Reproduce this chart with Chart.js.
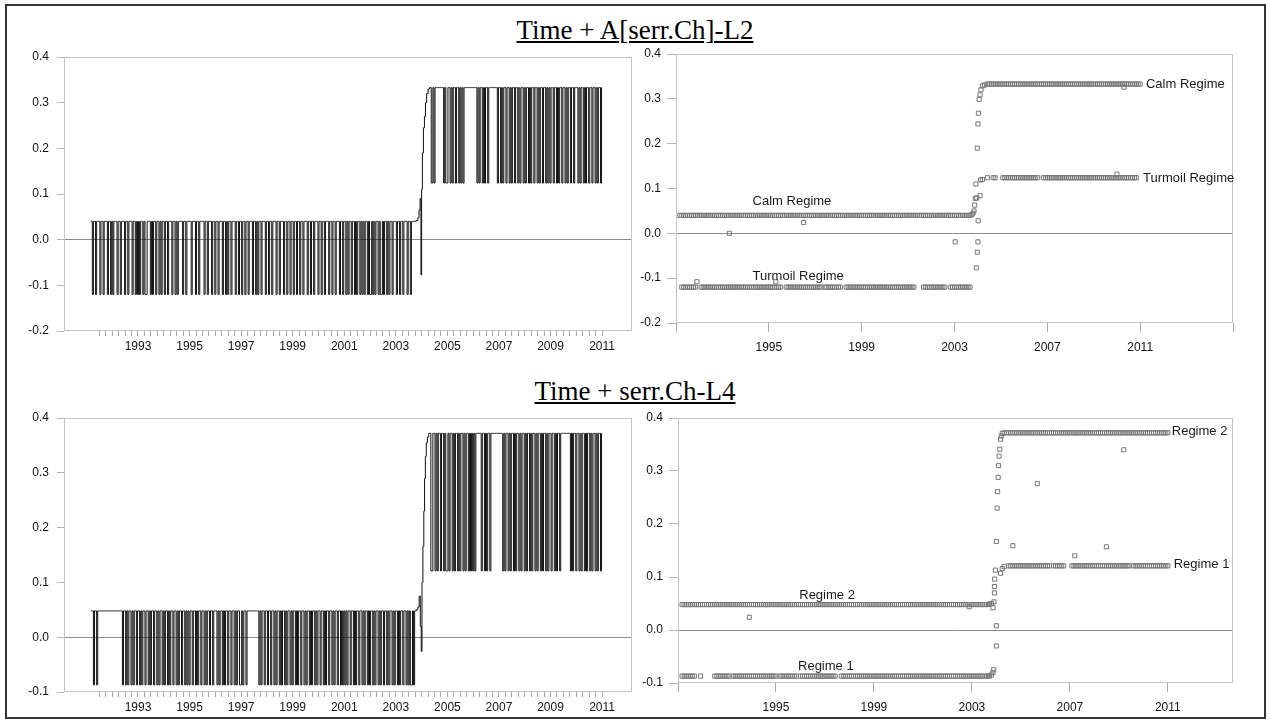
<!DOCTYPE html>
<html>
<head>
<meta charset="utf-8">
<script src="https://cdn.jsdelivr.net/npm/chart.js@4.4.1/dist/chart.umd.min.js"></script>
<style>
  body { margin: 0; width: 1270px; height: 721px; background: #fff; position: relative; overflow: hidden; }
  #frame { position: absolute; left: 5px; top: 4px; width: 1261px; height: 715px; box-sizing: border-box; border: 2px solid #333; }
  .title { position: absolute; left: 0; width: 1270px; text-align: center; font-family: "Liberation Serif", "Times New Roman", serif; font-size: 27px; line-height: 27px; color: #000; }
  .title span { text-decoration: underline; text-decoration-thickness: 2px; text-underline-offset: 2px; }
  .panel { position: absolute; }
</style>
</head>
<body>
<div id="frame"></div>
<div class="title" style="top:17px"><span>Time + A[serr.Ch]-L2</span></div>
<div class="title" style="top:378px"><span>Time + serr.Ch-L4</span></div>
<div class="panel" style="left:8px;top:41px;width:626px;height:316px"><canvas id="lineA"></canvas></div>
<div class="panel" style="left:636px;top:38px;width:614px;height:313px"><canvas id="dotsA"></canvas></div>
<div class="panel" style="left:8px;top:402px;width:626px;height:316px"><canvas id="lineB"></canvas></div>
<div class="panel" style="left:638px;top:402px;width:612px;height:311px"><canvas id="dotsB"></canvas></div>
<script>
// regime levels: [before 2004, after 2004]
const calmA = [0.040, 0.333];
const turmoilA = [-0.120, 0.124];
const calmB = [0.048, 0.372];
const turmoilB = [-0.087, 0.121];

// half-month regime path of the left panels, '1' = calm / regime 2, '0' = turmoil / regime 1
// pre = Mar 1991 .. Sep 2003, post = Jun 2004 .. Jan 2011, one string per year
const pathA_pre = ['11011011101101110110', '101110110111011011101101', '010110100111010110110101',
  '101101110110101111011011', '110111011011110110111011', '011011101101011011101101',
  '101101101110110101101110', '110110111011011101101101', '101101101101110110110111',
  '011011011101101101110110', '110101101101011010101101', '001010110100101101011011',
  '101101101110110111'];
const pathA_post = ['01011111111010', '011010110110101011111111', '111101011010110111111110',
  '110101101101011011010110', '101101011011010110110101', '011011010110110101101101',
  '110101101011011011010110', '1'];
const pathB_pre = ['11101101111111111111', '111111111101101011010110', '110101101101011011010110',
  '101101011011010110110101', '011011010110110101101101', '110101101011011011010110',
  '010110111111111110101101', '101101101011010110101101', '011010110110101101011010',
  '110110101101101011011010', '101011011010110110101101', '011010110101101101011010',
  '110101101101010010'];
const pathB_post = ['01101011011010', '010110101101011010110101', '010111110110101101111111',
  '111101011010110101101011', '010110101101011010110101', '101101011011111111101011',
  '011010110101101011010110', '1'];

// monthly: months where the turmoil / regime 1 square is drawn in the right panels ('0' = gap)
const turmOnA_pre = ['0111111110', '011111111111', '111111111111', '111111111111', '111111100111',
  '111111111111', '111101111111', '110011111111', '111111111111', '111111111111',
  '111100001111', '111111110011', '111111111'];
const turmOnA_post = ['1001100', '011111111111', '111111110011', '111111111111', '111111111111',
  '111111111111', '111111111110', '0'];
const turmOnB_pre = ['1111111001', '000000111111', '110111111111', '111111111111', '101111111110',
  '111111111111', '111111001111', '111111111111', '111111111111', '111111111111',
  '111111111111', '111111111111', '111111111'];
const turmOnB_post = ['0111111', '111111111111', '111011111100', '011111111111', '111111111111',
  '111111011111', '111111111111', '1'];

// the 2003/04 transition, [year, value]
const stepLineA = [[2003.75, 0.040], [2003.83, 0.042], [2003.88, 0.048], [2003.92, 0.065], [2003.96, 0.090],
  [2003.99, -0.077], [2004.01, 0.110], [2004.05, 0.190], [2004.09, 0.245], [2004.13, 0.270],
  [2004.17, 0.300], [2004.22, 0.320], [2004.28, 0.330], [2004.33, 0.333]];
const stepLineB = [[2003.75, 0.048], [2003.83, 0.050], [2003.88, 0.055], [2003.93, 0.075], [2003.97, 0.020],
  [2004.00, -0.026], [2004.03, 0.100], [2004.07, 0.165], [2004.10, 0.230], [2004.13, 0.290],
  [2004.16, 0.330], [2004.20, 0.355], [2004.25, 0.365], [2004.30, 0.372]];
const calmStepA = [[2003.75, 0.042], [2003.80, 0.045], [2003.84, 0.050], [2003.87, 0.063], [2003.90, 0.078],
  [2003.98, 0.190], [2004.01, 0.244], [2004.03, 0.268], [2004.06, 0.299], [2004.10, 0.309],
  [2004.14, 0.320], [2004.21, 0.329], [2004.30, 0.331]];
const turmStepA = [[2003.94, -0.077], [2003.98, -0.042], [2004.01, -0.019], [2004.02, 0.028], [2003.96, 0.079],
  [2004.10, 0.084], [2003.92, 0.110], [2004.12, 0.119], [2004.20, 0.120]];
const calmStepB = [[2003.72, 0.049], [2003.80, 0.050], [2003.86, 0.042], [2003.90, 0.053], [2004.00, 0.008],
  [2004.00, -0.030], [2004.00, 0.167], [2004.03, 0.230], [2004.05, 0.261], [2004.07, 0.288],
  [2004.09, 0.310], [2004.11, 0.328], [2004.14, 0.341], [2004.17, 0.360], [2004.20, 0.366],
  [2004.24, 0.371], [2004.32, 0.372]];
const turmStepB = [[2003.72, -0.087], [2003.80, -0.085], [2003.86, -0.080], [2003.89, -0.075], [2003.92, 0.070],
  [2003.92, 0.082], [2003.93, 0.096], [2003.96, 0.113], [2004.17, 0.107], [2004.24, 0.116], [2004.32, 0.120]];

// stray squares off the two regime rows
const extraA = [[1993.3, 0.000], [1996.5, 0.024], [2003.03, -0.019], [1991.9, -0.108], [1995.3, -0.108],
  [2010.0, 0.132], [2010.3, 0.326]];
const extraB = [[1993.91, 0.024], [2002.89, 0.044], [2004.67, 0.159], [2005.67, 0.276], [2007.20, 0.140],
  [2008.49, 0.157], [2009.20, 0.340]];

const notesA = [['Calm Regime', 2011.25, 0.333], ['Turmoil Regime', 2011.12, 0.123],
  ['Calm Regime', 1994.3, 0.071], ['Turmoil Regime', 1994.3, -0.097]];
const notesB = [['Regime 2', 2011.16, 0.374], ['Regime 1', 2011.24, 0.123],
  ['Regime 2', 1995.95, 0.066], ['Regime 1', 1995.9, -0.068]];

const PRE_START = 1991 + 2 / 12;
const POST_START = 2004 + 5 / 12;
const tickFont = { family: '"Liberation Sans", Arial, sans-serif', size: 12 };

function expand(rows, start, step) {
  var s = rows.join('');
  var out = [];
  for (var i = 0; i < s.length; i++) {
    out.push({ x: start + i * step, c: s[i] });
  }
  return out;
}

function pathData(pre, post, calm, turm, step) {
  var pts = [];
  expand(pre, PRE_START, 1 / 24).forEach(function (m) { pts.push({ x: m.x, y: m.c == '1' ? calm[0] : turm[0] }); });
  step.forEach(function (p) { pts.push({ x: p[0], y: p[1] }); });
  expand(post, POST_START, 1 / 24).forEach(function (m) { pts.push({ x: m.x, y: m.c == '1' ? calm[1] : turm[1] }); });
  return pts;
}

function dotsData(pre, post, calm, turm, calmStep, turmStep, extra) {
  var pts = [];
  [[pre, PRE_START, 0], [post, POST_START, 1]].forEach(function (part) {
    expand(part[0], part[1], 1 / 12).forEach(function (m) {
      pts.push({ x: m.x, y: calm[part[2]] });
      if (m.c == '1') pts.push({ x: m.x, y: turm[part[2]] });
    });
  });
  calmStep.concat(turmStep, extra).forEach(function (p) { pts.push({ x: p[0], y: p[1] }); });
  return pts;
}

var framePlugin = {
  id: 'frame',
  beforeDatasetsDraw: function (chart) {
    var a = chart.chartArea, ctx = chart.ctx;
    ctx.save();
    ctx.strokeStyle = '#c4c4c4';
    ctx.lineWidth = 1;
    ctx.strokeRect(a.left + 0.5, a.top + 0.5, a.right - a.left - 1, a.bottom - a.top - 1);
    ctx.restore();
  }
};

var notesPlugin = {
  id: 'notes',
  afterDatasetsDraw: function (chart, args, opts) {
    if (!opts.items) return;
    var ctx = chart.ctx;
    ctx.save();
    ctx.font = '13px "Liberation Sans", Arial, sans-serif';
    ctx.fillStyle = '#1a1a1a';
    ctx.textAlign = 'left';
    ctx.textBaseline = 'middle';
    opts.items.forEach(function (n) {
      ctx.fillText(n[0], chart.scales.x.getPixelForValue(n[1]), chart.scales.y.getPixelForValue(n[2]));
    });
    ctx.restore();
  }
};

function yAxis(min, tickLen, pad, width) {
  return {
    min: min, max: 0.4,
    border: { display: false },
    grid: {
      tickLength: tickLen, tickColor: '#b5b5b5',
      color: function (c) { return c.tick && Math.abs(c.tick.value) < 1e-9 ? '#8c8c8c' : 'rgba(0,0,0,0)'; }
    },
    ticks: {
      stepSize: 0.1, padding: pad, color: '#111', font: tickFont,
      callback: function (v) { return (Math.abs(v) < 1e-9 ? 0 : v).toFixed(1); }
    },
    afterFit: function (s) { s.width = width; }
  };
}

function xAxis(min, max, tickVals, labelFn, tickLen, pad, height) {
  return {
    type: 'linear', min: min, max: max,
    border: { display: false },
    grid: { drawOnChartArea: false, tickLength: tickLen, tickColor: '#a8a8a8' },
    afterBuildTicks: function (s) { s.ticks = tickVals.map(function (v) { return { value: v }; }); },
    ticks: { autoSkip: false, maxRotation: 0, padding: pad, color: '#111', font: tickFont, callback: labelFn },
    afterFit: function (s) { s.height = height; }
  };
}

var quarterTicks = [];
for (var q = 1991.5; q <= 2011.001; q += 0.25) quarterTicks.push(Math.round(q * 4) / 4);
function oddYears(v) {
  var r = Math.round(v * 4) / 4;
  return (Number.isInteger(r) && r % 2 == 1) ? String(r) : '';
}
function innerYears(lo, hi) {
  return function (v) { return (v > lo && v < hi) ? String(v) : ''; };
}

function lineChart(id, data, yMin) {
  new Chart(document.getElementById(id), {
    type: 'line',
    data: { datasets: [{ data: data, borderColor: '#111', borderWidth: 1, pointRadius: 0, stepped: 'middle', fill: false }] },
    options: {
      responsive: true, maintainAspectRatio: false, animation: false,
      layout: { padding: { top: 16, right: 2, left: 0, bottom: 0 } },
      plugins: { legend: { display: false }, tooltip: { enabled: false } },
      scales: {
        x: xAxis(1990.13, 2012.16, quarterTicks, oddYears, 5, 3, 26),
        y: yAxis(yMin, 7, 8, 56)
      }
    },
    plugins: [framePlugin]
  });
}

function dotsChart(id, data, yMin, xMax, yearTicks, notes, yWidth, xPad, xHeight) {
  new Chart(document.getElementById(id), {
    type: 'scatter',
    data: {
      datasets: [{
        data: data, pointStyle: 'rect', pointRadius: 2.9, borderWidth: 1,
        borderColor: '#777', backgroundColor: 'rgba(0,0,0,0)'
      }]
    },
    options: {
      responsive: true, maintainAspectRatio: false, animation: false,
      layout: { padding: { top: 16, right: 17, left: 0, bottom: 0 } },
      plugins: { legend: { display: false }, tooltip: { enabled: false }, notes: { items: notes } },
      scales: {
        x: xAxis(1991, xMax, yearTicks, innerYears(1991, xMax), 9, xPad, xHeight),
        y: yAxis(yMin, 9, 6, yWidth)
      }
    },
    plugins: [framePlugin, notesPlugin]
  });
}

lineChart('lineA', pathData(pathA_pre, pathA_post, calmA, turmoilA, stepLineA), -0.2);
lineChart('lineB', pathData(pathB_pre, pathB_post, calmB, turmoilB, stepLineB), -0.1);
dotsChart('dotsA', dotsData(turmOnA_pre, turmOnA_post, calmA, turmoilA, calmStepA, turmStepA, extraA),
  -0.2, 2015, [1991, 1995, 1999, 2003, 2007, 2011, 2015], notesA, 40, 8, 28);
dotsChart('dotsB', dotsData(turmOnB_pre, turmOnB_post, calmB, turmoilB, calmStepB, turmStepB, extraB),
  -0.1, 2013.66, [1991, 1995, 1999, 2003, 2007, 2011], notesB, 40, 8, 30);
</script>
</body>
</html>
